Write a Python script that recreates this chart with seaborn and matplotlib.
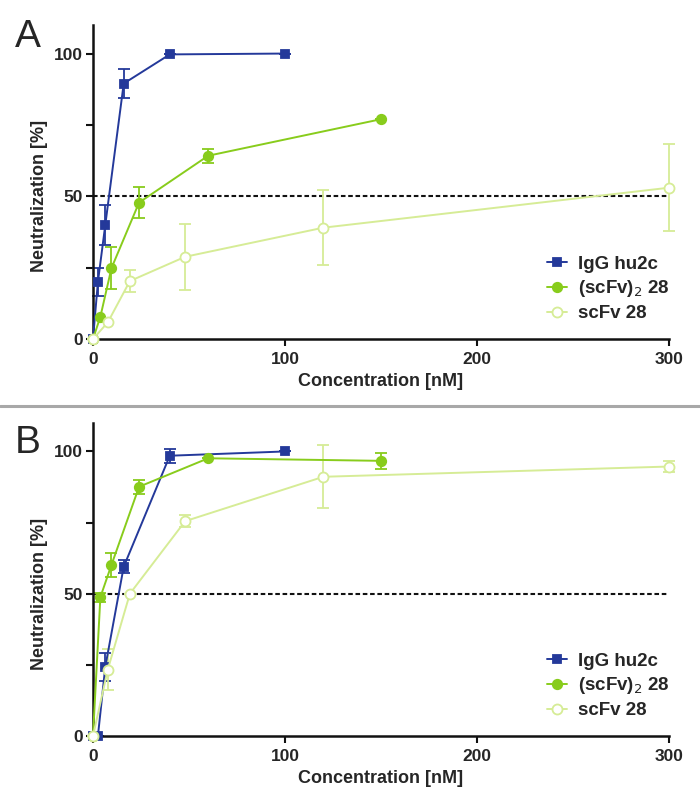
import numpy as np
import pandas as pd
import matplotlib
matplotlib.use("Agg")
import matplotlib.pyplot as plt
import seaborn as sns
from matplotlib.lines import Line2D

sns.set_theme(style="ticks")
plt.rcParams['font.family'] = ['Liberation Sans', 'DejaVu Sans']

# ---------------- data ----------------
series_names = ["IgG hu2c", "(scFv)$_2$ 28", "scFv 28"]

igg_conc = [0, 2.56, 6.4, 16, 40, 100]
scfv2_conc = [0, 3.84, 9.6, 24, 60, 150]
scfv_conc = [0, 7.68, 19.2, 48, 120, 300]

# Panel A
a_igg = [0, 20, 40, 89.5, 99.7, 100]
a_igg_err = [0, 5, 7, 5, 0, 0]
a_scfv2 = [0, 7.8, 24.8, 47.8, 64.2, 77]
a_scfv2_err = [0, 0, 7.4, 5.4, 2.5, 0]
a_scfv = [0, 5.8, 20.3, 28.8, 39, 53]
a_scfv_err = [0, 0, 3.8, 11.5, 13.2, 15.3]

# Panel B
b_igg = [0, 0, 24.3, 59.5, 98.5, 100]
b_igg_err = [0, 0, 5, 2.2, 2.5, 0]
b_scfv2 = [0, 48.8, 60.1, 87.6, 97.6, 96.7]
b_scfv2_err = [0, 1.6, 4.3, 2.4, 0, 2.8]
b_scfv = [0, 23.3, 50, 75.5, 91.1, 94.7]
b_scfv_err = [0, 7.2, 0, 2.2, 11, 1.8]

x_ticks = [0, 100, 200, 300]
y_ticks = [0, 50, 100]
y_minor = [25, 75]

colors = ["#24399a", "#88cc1c", "#d6ec96"]
markers = ["s", "o", "o"]
mfaces = ["#24399a", "#88cc1c", "white"]
msizes = [5.2, 6.8, 7.2]

fig = plt.figure(figsize=(7.0, 8.05), dpi=100)
axA = fig.add_axes([93/700, 1-339/805, 576/700, 314/805])
axB = fig.add_axes([93/700, 1-736/805, 576/700, 313/805])

panels = [
    (axA, "A", [(igg_conc, a_igg, a_igg_err), (scfv2_conc, a_scfv2, a_scfv2_err), (scfv_conc, a_scfv, a_scfv_err)]),
    (axB, "B", [(igg_conc, b_igg, b_igg_err), (scfv2_conc, b_scfv2, b_scfv2_err), (scfv_conc, b_scfv, b_scfv_err)]),
]

for ax, label, data in panels:
    ax.axhline(50, color="#111111", lw=1.5, ls=(0, (2.2, 1.3)), zorder=1)
    for i, (xs, ys, es) in enumerate(data):
        df = pd.DataFrame({"conc": xs, "neut": ys})
        ax.errorbar(xs, ys, yerr=es, fmt="none", ecolor=colors[i], elinewidth=1.3,
                    capsize=4, capthick=1.3, zorder=2 + i * 0.1, clip_on=False)
        sns.lineplot(data=df, x="conc", y="neut", ax=ax, color=colors[i], lw=1.4,
                     marker=markers[i], markersize=msizes[i], markerfacecolor=mfaces[i],
                     markeredgecolor=colors[i], markeredgewidth=1.3, errorbar=None,
                     sort=False, zorder=3 + i * 0.1, clip_on=False)
    ax.set_xlim(0, 300)
    ax.set_ylim(0, 110)
    ax.set_xticks(x_ticks)
    ax.set_yticks(y_ticks)
    ax.set_yticks(y_minor, minor=True)
    ax.set_xticklabels([str(t) for t in x_ticks], fontsize=12.5, fontweight="bold")
    ax.set_yticklabels([str(t) for t in y_ticks], fontsize=12.5, fontweight="bold")
    ax.tick_params(axis="both", which="both", direction="out", length=5, width=1.5, color="#111111", pad=2)
    ax.tick_params(axis="x", which="major", pad=4)
    for s in ["top", "right"]:
        ax.spines[s].set_visible(False)
    for s in ["left", "bottom"]:
        ax.spines[s].set_linewidth(1.8)
        ax.spines[s].set_color("#111111")
    ax.set_xlabel("Concentration [nM]", fontsize=13, fontweight="bold", labelpad=5)
    ax.set_ylabel("Neutralization [%]", fontsize=13, fontweight="bold", labelpad=3)
    ax.yaxis.set_label_coords(-0.078, 50 / 110)
    handles = [Line2D([0], [0], color=colors[i], lw=1.4, marker=markers[i],
                      markersize=msizes[i], markerfacecolor=mfaces[i],
                      markeredgecolor=colors[i], markeredgewidth=1.3) for i in range(3)]
    leg = ax.legend(handles, series_names, loc="lower right", bbox_to_anchor=(1.03, 0.0),
                    frameon=False, handlelength=1.1, handletextpad=0.55, labelspacing=0.3,
                    prop={"size": 13.5, "weight": "bold"})
    ax.set_facecolor("white")

fig.text(15/700, 1-47/805, "A", fontsize=28, ha="left", va="baseline")
fig.text(15/700, 1-453/805, "B", fontsize=28, ha="left", va="baseline")
fig.add_artist(Line2D([0, 1], [1-406/805, 1-406/805], color="#a8a8a8", lw=2.2, transform=fig.transFigure))

fig.savefig("out.png", dpi=100, facecolor="white")
